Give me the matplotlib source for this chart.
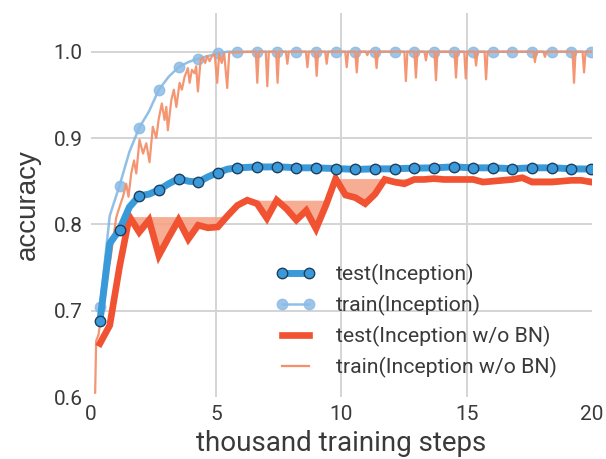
import numpy as np
import matplotlib
matplotlib.use("Agg")
import matplotlib.pyplot as plt
from matplotlib.lines import Line2D

# ---------------- data ----------------
# evaluation steps (thousands), every ~392 steps
steps = np.linspace(0.36, 19.96, 51)

test_inception = [0.688, 0.778, 0.794, 0.820, 0.833, 0.835, 0.840, 0.847, 0.853, 0.850,
                  0.849, 0.855, 0.860, 0.864, 0.8655, 0.866, 0.8667, 0.8665, 0.8667, 0.8662,
                  0.8655, 0.8655, 0.8655, 0.865, 0.8647, 0.8642, 0.8636, 0.864, 0.8643, 0.8643,
                  0.8643, 0.8648, 0.8651, 0.8653, 0.8655, 0.866, 0.8667, 0.866, 0.8655, 0.8655,
                  0.8655, 0.865, 0.8643, 0.865, 0.8655, 0.8655, 0.8655, 0.865, 0.8643, 0.8642,
                  0.864]

train_inception = [0.704, 0.810, 0.845, 0.884, 0.912, 0.931, 0.956, 0.971, 0.982, 0.988,
                   0.992, 0.995, 0.998] + [1.0] * 38

test_nobn = [0.662, 0.683, 0.751, 0.809, 0.791, 0.805, 0.764, 0.785, 0.805, 0.783,
             0.799, 0.796, 0.797, 0.810, 0.822, 0.828, 0.824, 0.807, 0.828, 0.818,
             0.805, 0.816, 0.795, 0.822, 0.853, 0.834, 0.831, 0.824, 0.835, 0.852,
             0.849, 0.847, 0.852, 0.852, 0.853, 0.852, 0.852, 0.852, 0.852, 0.849,
             0.850, 0.851, 0.852, 0.854, 0.849, 0.849, 0.849, 0.850, 0.851, 0.851,
             0.849]

train_nobn_x = [0.17, 0.21, 0.30, 0.35, 0.45, 0.55, 0.68, 0.78, 0.88, 1.01,
                1.14, 1.28, 1.41, 1.50, 1.61, 1.72, 1.81, 1.94, 2.08, 2.21,
                2.34, 2.47, 2.61, 2.70, 2.83, 2.94, 3.01, 3.07, 3.21, 3.31,
                3.41, 3.54, 3.63, 3.74, 3.87, 3.94, 4.03, 4.14, 4.20, 4.27,
                4.38, 4.47, 4.56, 4.64, 4.74, 4.83, 4.94, 5.04, 5.12, 5.22,
                5.32, 5.44, 5.52,
                6.58, 6.64, 6.70, 6.98, 7.04, 7.10, 7.39, 7.45, 7.51, 7.78, 7.84, 7.90,
                8.58, 8.64, 8.70, 8.95, 9.01, 9.07, 9.35, 9.41, 9.47,
                10.15, 10.21, 10.27, 10.55, 10.61, 10.67, 10.97, 11.03, 11.09,
                11.34, 11.40, 11.46, 12.51, 12.57, 12.63, 12.91, 12.97, 13.03,
                13.31, 13.37, 13.43, 13.71, 13.77, 13.83, 14.51, 14.57, 14.63,
                14.90, 14.96, 15.02, 15.31, 15.37, 15.43, 15.71, 15.77, 15.83,
                17.66, 17.72, 17.78, 18.06, 18.12, 18.18, 19.22, 19.28, 19.34,
                19.62, 19.68, 19.74, 20.0]
train_nobn_y = [0.605, 0.665, 0.672, 0.681, 0.690, 0.715, 0.747, 0.760, 0.781, 0.808,
                0.820, 0.832, 0.847, 0.832, 0.859, 0.874, 0.859, 0.898, 0.882, 0.894,
                0.872, 0.913, 0.900, 0.921, 0.940, 0.921, 0.936, 0.909, 0.944, 0.956,
                0.936, 0.964, 0.956, 0.971, 0.981, 0.964, 0.979, 0.975, 0.983, 0.954,
                0.991, 0.993, 0.987, 0.995, 0.989, 0.995, 0.997, 0.964, 0.998, 0.987,
                0.998, 0.958, 0.999,
                1.0, 0.964, 1.0, 1.0, 0.960, 1.0, 1.0, 0.964, 1.0, 1.0, 0.986, 1.0,
                1.0, 0.982, 1.0, 1.0, 0.972, 1.0, 1.0, 0.986, 1.0,
                1.0, 0.982, 1.0, 1.0, 0.976, 1.0, 1.0, 0.996, 1.0,
                1.0, 0.981, 1.0, 1.0, 0.966, 1.0, 1.0, 0.970, 1.0,
                1.0, 0.990, 1.0, 1.0, 0.967, 1.0, 1.0, 0.970, 1.0,
                1.0, 0.969, 1.0, 1.0, 0.984, 1.0, 1.0, 0.968, 1.0,
                1.0, 0.988, 1.0, 1.0, 0.994, 1.0, 1.0, 0.964, 1.0,
                1.0, 0.976, 1.0, 1.0]

labels = ["test(Inception)", "train(Inception)",
          "test(Inception w/o BN)", "train(Inception w/o BN)"]
xticks = [0, 5, 10, 15, 20]
yticks = [0.6, 0.7, 0.8, 0.9, 1.0]

# ---------------- style ----------------
plt.rcParams['font.family'] = ['Roboto', 'DejaVu Sans']
TXT = '#3a3a3a'
BLUE = '#3a9ad9'
BLUE_EDGE = '#1f3f5f'
LBLUE = '#7fb4e2'
RED = '#f05232'
SALMON = '#f4916b'
FILL = '#f5a487'

fig = plt.figure(figsize=(6.06, 4.59), dpi=100)
ax = fig.add_axes([0.150, 0.135, 0.827, 0.837])

ax.set_xlim(0, 20)
ax.set_ylim(0.6, 1.045)
ax.set_xticks(xticks)
ax.set_yticks(yticks)
ax.set_xticklabels([str(t) for t in xticks])
ax.set_yticklabels([f"{t:.1f}" for t in yticks])
ax.grid(True, color='#d4d4d4', lw=1.4)
ax.set_axisbelow(True)
for s in ax.spines.values():
    s.set_visible(False)
ax.tick_params(length=0, labelsize=15, labelcolor=TXT)
ax.tick_params(axis='y', pad=6)
ax.tick_params(axis='x', pad=6)

test_nobn_arr = np.array(test_nobn)
ax.fill_between(steps, test_nobn_arr, np.maximum.accumulate(test_nobn_arr),
                color=FILL, alpha=0.9, lw=0, zorder=2)

ax.plot(steps, train_inception, color=LBLUE, lw=1.8, marker='o', markevery=2,
        markersize=7.5, markerfacecolor='#8bbbe5', markeredgecolor='#8bbbe5',
        alpha=0.85, zorder=3)
ax.plot(train_nobn_x, train_nobn_y, color=SALMON, lw=1.6, alpha=0.95, zorder=4)
ax.plot(steps, test_nobn, color=RED, lw=4.8, solid_joinstyle='miter', zorder=5)
ax.plot(steps, test_inception, color=BLUE, lw=5.0, marker='o', markevery=2,
        markersize=7.5, markerfacecolor=BLUE, markeredgecolor=BLUE_EDGE,
        markeredgewidth=1.0, zorder=6)

ax.set_xlabel("thousand training steps", fontsize=20, color=TXT, labelpad=4)
ax.set_ylabel("accuracy", fontsize=20, color=TXT, labelpad=9,
              family=['Liberation Sans', 'DejaVu Sans'])

handles = [
    Line2D([], [], color=BLUE, lw=5.0, marker='o', markersize=7.5,
           markerfacecolor=BLUE, markeredgecolor=BLUE_EDGE, markeredgewidth=1.0),
    Line2D([], [], color=LBLUE, lw=1.8, marker='o', markersize=7.5,
           markerfacecolor='#8bbbe5', markeredgecolor='#8bbbe5', alpha=0.85),
    Line2D([], [], color=RED, lw=4.8),
    Line2D([], [], color=SALMON, lw=1.6),
]
leg = ax.legend(handles, labels, loc='lower left', bbox_to_anchor=(0.330, 0.0),
                frameon=False, fontsize=15.3, numpoints=2, handlelength=1.9,
                handletextpad=0.94, labelspacing=0.46, labelcolor=TXT)

fig.canvas.draw()
# hide gridlines sitting on the plot edges
for gl, t in zip(ax.yaxis.get_gridlines(), yticks):
    if t == 0.6:
        gl.set_visible(False)
for gl, t in zip(ax.xaxis.get_gridlines(), xticks):
    if t in (0, 20):
        gl.set_visible(False)

fig.savefig("out.png", dpi=100)
